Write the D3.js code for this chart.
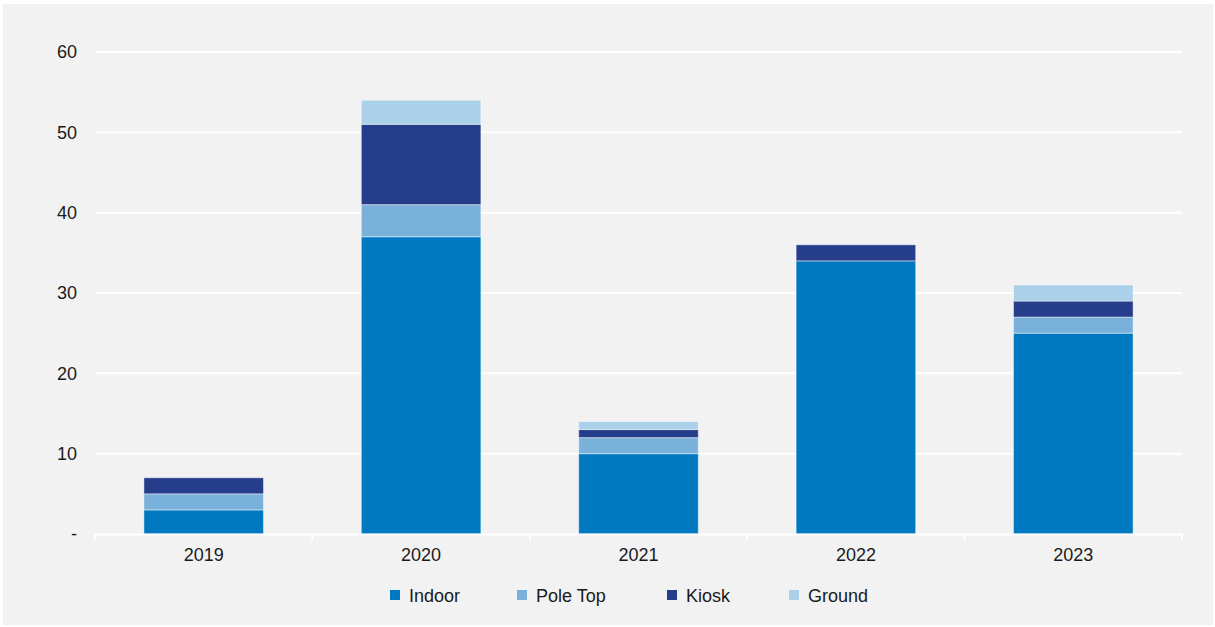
<!DOCTYPE html>
<html>
<head>
<meta charset="utf-8">
<script src="https://cdn.jsdelivr.net/npm/d3@7"></script>
<style>
  html, body { margin: 0; padding: 0; background: #ffffff; }
  svg { display: block; font-family: "Liberation Sans", Arial, sans-serif; }
</style>
</head>
<body>
<svg id="chart" width="1215" height="627"></svg>
<script>
// Installations per year, stacked by site type
const years = ["2019", "2020", "2021", "2022", "2023"];
const seriesNames = ["Indoor", "Pole Top", "Kiosk", "Ground"];
const indoor  = [3, 37, 10, 34, 25];
const poleTop = [2, 4, 2, 0, 2];
const kiosk   = [2, 10, 1, 2, 2];
const ground  = [0, 3, 1, 0, 2];
const yTicks  = [0, 10, 20, 30, 40, 50, 60];
const colors  = ["#0079c1", "#7ab1db", "#253d8a", "#abd0e9"];

const rows = years.map((y, i) => ({
  year: y,
  "Indoor": indoor[i],
  "Pole Top": poleTop[i],
  "Kiosk": kiosk[i],
  "Ground": ground[i]
}));

const svg = d3.select("#chart");
const W = 1215, H = 627;
const FS = 18;

// panel background
svg.append("rect").attr("x", 3).attr("y", 4).attr("width", W - 5).attr("height", H - 6)
  .attr("fill", "#f2f2f2");

const plot = { left: 95, right: 1182, top: 52, bottom: 534 };

const x = d3.scaleBand().domain(years).range([plot.left, plot.right])
  .paddingInner(0.45).paddingOuter(0.225);
const y = d3.scaleLinear().domain([0, 60]).range([plot.bottom, plot.top]);

// horizontal gridlines
svg.append("g").selectAll("line").data(yTicks.filter(t => t > 0)).join("line")
  .attr("x1", plot.left).attr("x2", plot.right)
  .attr("y1", d => y(d)).attr("y2", d => y(d))
  .attr("stroke", "#ffffff").attr("stroke-width", 2);

// y axis labels
const yAxis = d3.axisLeft(y).tickValues(yTicks).tickSize(0).tickPadding(18)
  .tickFormat(d => d === 0 ? "-" : d3.format("d")(d));
const gy = svg.append("g").attr("transform", `translate(${plot.left},0)`).call(yAxis);
gy.select(".domain").remove();
gy.selectAll("text").attr("font-size", FS).attr("fill", "#1a1a1a")
  .attr("font-family", "Liberation Sans, Arial, sans-serif");

// stacked bars
const stack = d3.stack().keys(seriesNames);
const layers = stack(rows);
svg.append("g").selectAll("g").data(layers).join("g")
  .attr("fill", (d, i) => colors[i])
  .selectAll("rect").data(d => d.filter(s => s[1] - s[0] > 0)).join("rect")
  .attr("x", d => x(d.data.year))
  .attr("width", x.bandwidth())
  .attr("y", d => y(d[1]))
  .attr("height", d => y(d[0]) - y(d[1]))
  .attr("stroke", "rgba(255,255,255,0.45)")
  .attr("stroke-width", 1);

// category axis with boundary ticks
const boundaries = d3.range(years.length + 1).map(i => plot.left + i * (plot.right - plot.left) / years.length);
const gx = svg.append("g");
gx.append("line").attr("x1", plot.left).attr("x2", plot.right)
  .attr("y1", plot.bottom + 0.5).attr("y2", plot.bottom + 0.5)
  .attr("stroke", "#ffffff").attr("stroke-width", 2);
gx.selectAll("line.tick").data(boundaries).join("line").attr("class", "tick")
  .attr("x1", d => d).attr("x2", d => d)
  .attr("y1", plot.bottom).attr("y2", plot.bottom + 6)
  .attr("stroke", "#ffffff").attr("stroke-width", 2);
gx.selectAll("text").data(years).join("text")
  .attr("x", d => x(d) + x.bandwidth() / 2)
  .attr("y", 561)
  .attr("text-anchor", "middle")
  .attr("font-size", FS).attr("fill", "#1a1a1a")
  .text(d => d);

// legend
const legendX = [390, 517, 667, 789];
const legend = svg.append("g").selectAll("g").data(seriesNames).join("g")
  .attr("transform", (d, i) => `translate(${legendX[i]},595)`);
legend.append("rect").attr("x", 0).attr("y", -5).attr("width", 10).attr("height", 10)
  .attr("fill", (d, i) => colors[i]);
legend.append("text").attr("x", 19).attr("y", 6.5)
  .attr("font-size", FS).attr("fill", "#1a1a1a")
  .text(d => d);
</script>
</body>
</html>
